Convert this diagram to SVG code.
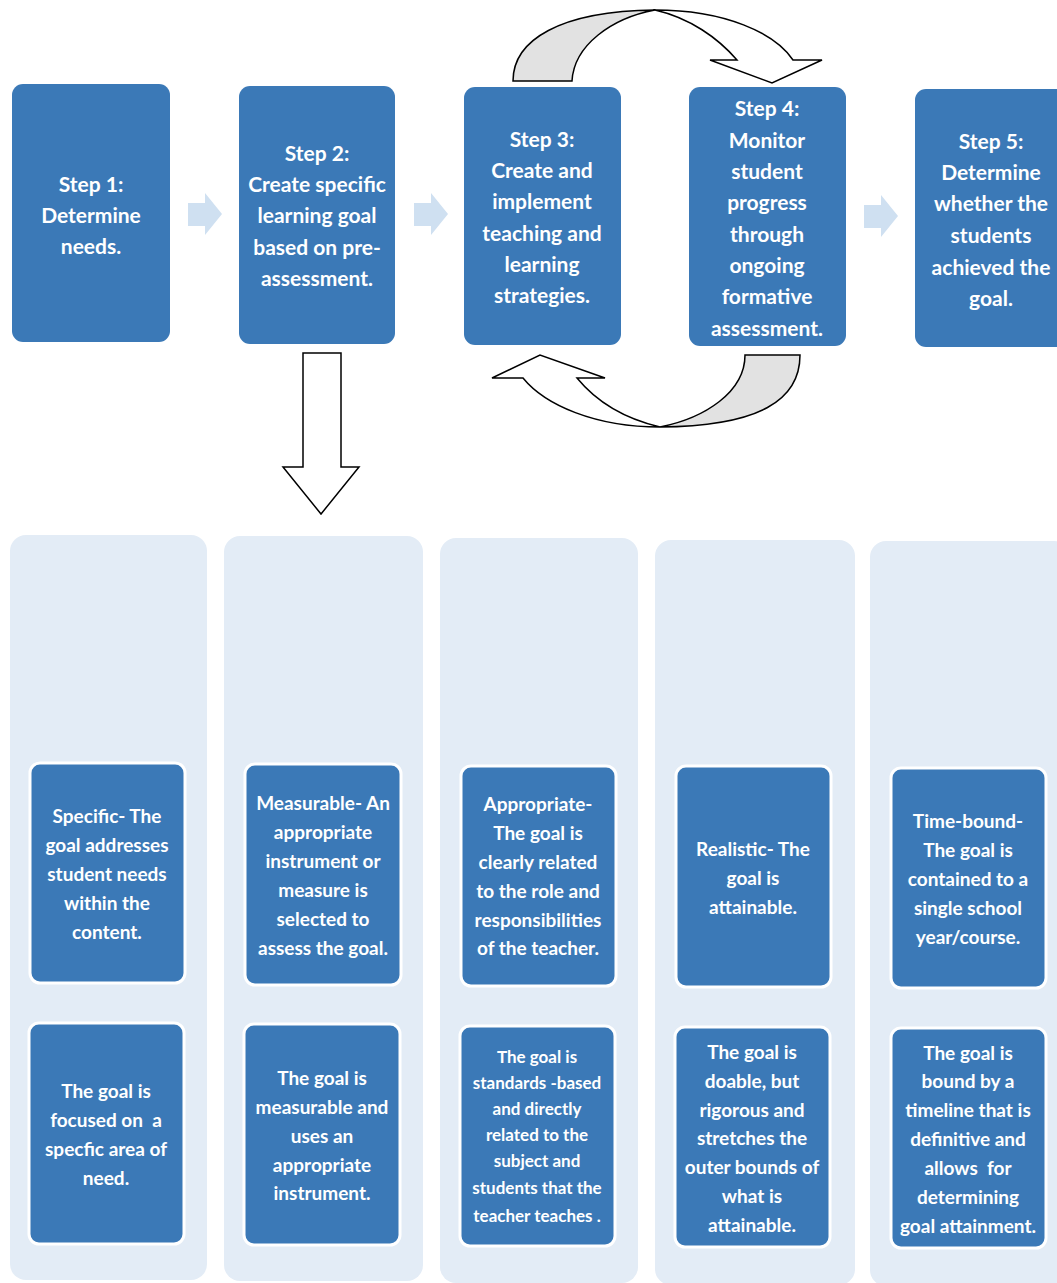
<svg xmlns="http://www.w3.org/2000/svg" width="1057" height="1283" viewBox="0 0 1057 1283">
<style>
.box{fill:#3b79b7}
.inner{fill:#3b79b7;stroke:#ffffff;stroke-width:3}
.col{fill:#e3ecf6}
.t{font-family:Lato,"Open Sans","Liberation Sans",sans-serif;font-weight:bold;fill:#ffffff;text-anchor:middle;white-space:pre}
.big{font-size:21px}
.mid{font-size:19px}
.sm{font-size:17px}
.pale{fill:#cfe0f1}
.out{fill:#ffffff;stroke:#000000;stroke-width:1.5;stroke-linejoin:miter}
.grey{fill:#e2e2e2;stroke:#000000;stroke-width:1.5}
</style>
<rect x="0" y="0" width="1057" height="1283" fill="#ffffff"/>

<g id="columns">
<rect class="col" x="10" y="535" width="197" height="745" rx="16"/>
<rect class="col" x="224" y="536" width="199" height="745" rx="16"/>
<rect class="col" x="440" y="538" width="198" height="745" rx="16"/>
<rect class="col" x="655" y="540" width="200" height="745" rx="16"/>
<rect class="col" x="870" y="541" width="200" height="745" rx="16"/>
</g>

<g id="connectors">
<path class="pale" d="M188,203 L205,203 L205,193 L222,214 L205,235 L205,226 L188,226 Z"/>
<path class="pale" d="M414,203 L431,203 L431,193 L448,214 L431,235 L431,226 L414,226 Z"/>
<path class="pale" d="M864,205 L881,205 L881,195 L898,216 L881,237 L881,228 L864,228 Z"/>
<path class="out" d="M303,353 L341,353 L341,467 L359,467 L321,514 L283,467 L303,467 Z"/>
<path class="grey" d="M513,81 C513,40 560,11 655,10 C612,18 574,45 572,81 Z"/>
<path class="out" d="M655,10 C725,10 775,33 793,60 L822,60 L772,83 L710,60 L737,60 C718,38 690,18 655,10 Z"/>
<path class="grey" d="M800,355 C800,400 760,426 660,427 C705,418 745,392 745,355 Z"/>
<path class="out" d="M660,427 C595,427 545,405 523,378 L492,378 L540,355 L605,378 L577,378 C595,400 622,418 660,427 Z"/>
</g>

<g id="step1">
<rect class="box" x="12" y="84" width="158" height="258" rx="11"/>
<text class="t big"><tspan x="91" y="192">Step 1:</tspan><tspan x="91" y="223">Determine</tspan><tspan x="91" y="254">needs.</tspan></text>
</g>
<g id="step2">
<rect class="box" x="239" y="86" width="156" height="258" rx="11"/>
<text class="t big"><tspan x="317" y="161">Step 2:</tspan><tspan x="317" y="192">Create specific</tspan><tspan x="317" y="223">learning goal</tspan><tspan x="317" y="255">based on pre-</tspan><tspan x="317" y="286">assessment.</tspan></text>
</g>
<g id="step3">
<rect class="box" x="464" y="87" width="157" height="258" rx="11"/>
<text class="t big"><tspan x="542" y="147">Step 3:</tspan><tspan x="542" y="178">Create and</tspan><tspan x="542" y="209">implement</tspan><tspan x="542" y="241">teaching and</tspan><tspan x="542" y="272">learning</tspan><tspan x="542" y="303">strategies.</tspan></text>
</g>
<g id="step4">
<rect class="box" x="689" y="87" width="157" height="259" rx="11"/>
<text class="t big"><tspan x="767" y="116">Step 4:</tspan><tspan x="767" y="148">Monitor</tspan><tspan x="767" y="179">student</tspan><tspan x="767" y="210">progress</tspan><tspan x="767" y="242">through</tspan><tspan x="767" y="273">ongoing</tspan><tspan x="767" y="304">formative</tspan><tspan x="767" y="336">assessment.</tspan></text>
</g>
<g id="step5">
<rect class="box" x="915" y="89" width="160" height="258" rx="11"/>
<text class="t big"><tspan x="991" y="149">Step 5:</tspan><tspan x="991" y="180">Determine</tspan><tspan x="991" y="211">whether the</tspan><tspan x="991" y="243">students</tspan><tspan x="991" y="275">achieved the</tspan><tspan x="991" y="306">goal.</tspan></text>
</g>

<g id="specific">
<rect class="inner" x="30" y="763" width="155" height="220" rx="10"/>
<text class="t mid"><tspan x="107" y="823">Specific- The</tspan><tspan x="107" y="852">goal addresses</tspan><tspan x="107" y="881">student needs</tspan><tspan x="107" y="910">within the</tspan><tspan x="107" y="939">content.</tspan></text>
</g>
<g id="measurable">
<rect class="inner" x="245" y="764" width="156" height="221" rx="10"/>
<text class="t mid"><tspan x="323" y="810">Measurable- An</tspan><tspan x="323" y="839">appropriate</tspan><tspan x="323" y="868">instrument or</tspan><tspan x="323" y="897">measure is</tspan><tspan x="323" y="926">selected to</tspan><tspan x="323" y="955">assess the goal.</tspan></text>
</g>
<g id="appropriate">
<rect class="inner" x="461" y="766" width="155" height="220" rx="10"/>
<text class="t mid"><tspan x="538" y="811">Appropriate-</tspan><tspan x="538" y="840">The goal is</tspan><tspan x="538" y="869">clearly related</tspan><tspan x="538" y="898">to the role and</tspan><tspan x="538" y="927">responsibilities</tspan><tspan x="538" y="955">of the teacher.</tspan></text>
</g>
<g id="realistic">
<rect class="inner" x="676" y="766" width="155" height="221" rx="10"/>
<text class="t mid"><tspan x="753" y="856">Realistic- The</tspan><tspan x="753" y="885">goal is</tspan><tspan x="753" y="914">attainable.</tspan></text>
</g>
<g id="timebound">
<rect class="inner" x="891" y="768" width="155" height="220" rx="10"/>
<text class="t mid"><tspan x="968" y="828">Time-bound-</tspan><tspan x="968" y="857">The goal is</tspan><tspan x="968" y="886">contained to a</tspan><tspan x="968" y="915">single school</tspan><tspan x="968" y="944">year/course.</tspan></text>
</g>

<g id="specific-detail">
<rect class="inner" x="29" y="1023" width="155" height="221" rx="10"/>
<text class="t mid"><tspan x="106" y="1098">The goal is</tspan><tspan x="106" y="1127">focused on  a</tspan><tspan x="106" y="1156">specfic area of</tspan><tspan x="106" y="1185">need.</tspan></text>
</g>
<g id="measurable-detail">
<rect class="inner" x="244" y="1024" width="156" height="221" rx="10"/>
<text class="t mid"><tspan x="322" y="1085">The goal is</tspan><tspan x="322" y="1114">measurable and</tspan><tspan x="322" y="1143">uses an</tspan><tspan x="322" y="1172">appropriate</tspan><tspan x="322" y="1200">instrument.</tspan></text>
</g>
<g id="appropriate-detail">
<rect class="inner" x="460" y="1026" width="155" height="220" rx="10"/>
<text class="t sm"><tspan x="537" y="1063">The goal is</tspan><tspan x="537" y="1089">standards -based</tspan><tspan x="537" y="1115">and directly</tspan><tspan x="537" y="1141">related to the</tspan><tspan x="537" y="1167">subject and</tspan><tspan x="537" y="1194">students that the</tspan><tspan x="537" y="1222">teacher teaches .</tspan></text>
</g>
<g id="realistic-detail">
<rect class="inner" x="675" y="1027" width="155" height="220" rx="10"/>
<text class="t mid"><tspan x="752" y="1059">The goal is</tspan><tspan x="752" y="1088">doable, but</tspan><tspan x="752" y="1117">rigorous and</tspan><tspan x="752" y="1145">stretches the</tspan><tspan x="752" y="1174">outer bounds of</tspan><tspan x="752" y="1203">what is</tspan><tspan x="752" y="1232">attainable.</tspan></text>
</g>
<g id="timebound-detail">
<rect class="inner" x="891" y="1028" width="155" height="220" rx="10"/>
<text class="t mid"><tspan x="968" y="1060">The goal is</tspan><tspan x="968" y="1088">bound by a</tspan><tspan x="968" y="1117">timeline that is</tspan><tspan x="968" y="1146">definitive and</tspan><tspan x="968" y="1175">allows  for</tspan><tspan x="968" y="1204">determining</tspan><tspan x="968" y="1233">goal attainment.</tspan></text>
</g>
</svg>
